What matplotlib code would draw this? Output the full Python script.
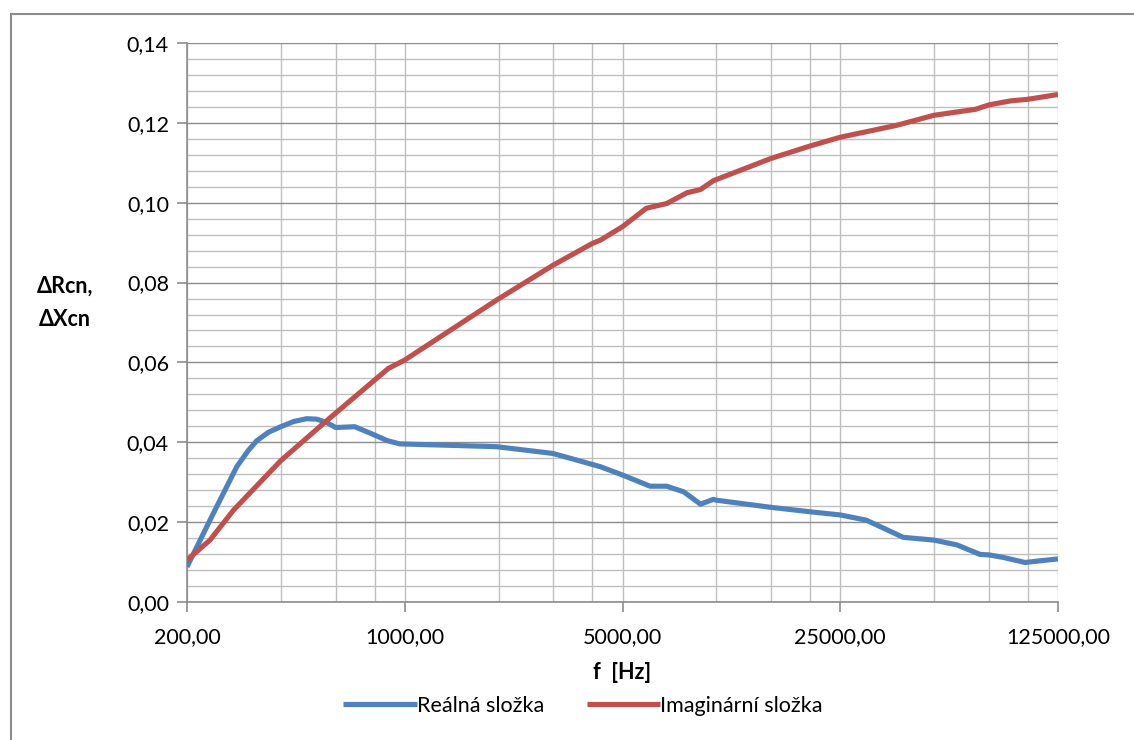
import matplotlib.pyplot as plt
from matplotlib.patches import Rectangle
from matplotlib.ticker import FixedLocator, FuncFormatter, NullFormatter

plt.rcParams['font.family'] = ['Lato', 'DejaVu Sans']

# frequency points and values
f_real = [200, 243, 289, 315, 335, 365, 400, 440, 484, 521, 560, 600, 691, 790,
          880, 964, 1970, 2990, 4240, 5000, 6130, 6930, 7860, 8900, 9780, 10000,
          15000, 20000, 25000, 30300, 39800, 50000, 59200, 70400, 75000, 83000,
          98000, 125000]
real = [0.0088, 0.0222, 0.0339, 0.0380, 0.0404, 0.0425, 0.0439, 0.0452, 0.0459,
        0.0458, 0.0450, 0.0437, 0.0439, 0.0420, 0.0404, 0.0396, 0.0389, 0.0372,
        0.0339, 0.0318, 0.0290, 0.0290, 0.0276, 0.0245, 0.0257, 0.0255, 0.0237,
        0.0226, 0.0218, 0.0205, 0.0162, 0.0155, 0.0143, 0.0119, 0.0118, 0.0112,
        0.0099, 0.0108]

f_imag = [200, 237, 282, 400, 548, 886, 1000, 1970, 3000, 4000, 4240, 5000,
          5960, 6930, 8060, 8900, 9780, 15000, 20000, 25000, 38000, 50000,
          68000, 75000, 88000, 100000, 125000]
imag = [0.0105, 0.0155, 0.0230, 0.0354, 0.0447, 0.0585, 0.0606, 0.0756, 0.0844,
        0.0898, 0.0906, 0.0940, 0.0986, 0.0998, 0.1025, 0.1033, 0.1055, 0.1111,
        0.1142, 0.1164, 0.1194, 0.1219, 0.1234, 0.1245, 0.1255, 0.1259, 0.1271]

x_major = [200, 1000, 5000, 25000, 125000]
x_minor = [k * m for m in x_major[:-1] for k in (2, 3, 4)]
y_major = [0.00, 0.02, 0.04, 0.06, 0.08, 0.10, 0.12, 0.14]
y_minor = [i * 0.004 for i in range(36)]

fig = plt.figure(figsize=(11.34, 7.4), dpi=100)
ax = fig.add_axes([187 / 1134, 1 - 602 / 740, (1058 - 187) / 1134, (602 - 43) / 740])

# outer chart border
fig.patches.append(Rectangle((10.5 / 1134, -0.1), 1.2, 1 - 14 / 740 + 0.1,
                             transform=fig.transFigure, fill=False,
                             edgecolor='#8c8c8c', linewidth=1.5))

ax.plot(f_real, real, color='#4F81BD', lw=3.7, label='Reálná složka',
        solid_joinstyle='round', solid_capstyle='butt', zorder=3)
ax.plot(f_imag, imag, color='#C0504D', lw=3.7, label='Imaginární složka',
        solid_joinstyle='round', solid_capstyle='butt', zorder=3)

ax.set_xscale('log', base=5)
ax.set_xlim(200, 125000)
ax.set_ylim(0, 0.14)
ax.xaxis.set_major_locator(FixedLocator(x_major))
ax.xaxis.set_minor_locator(FixedLocator(x_minor))
ax.xaxis.set_minor_formatter(NullFormatter())
ax.xaxis.set_major_formatter(FuncFormatter(lambda v, p: '{:.2f}'.format(v).replace('.', ',')))
ax.yaxis.set_major_locator(FixedLocator(y_major))
ax.yaxis.set_minor_locator(FixedLocator(y_minor))
ax.yaxis.set_major_formatter(FuncFormatter(lambda v, p: '{:.2f}'.format(v).replace('.', ',')))

ax.grid(which='minor', color='#bfbfbf', lw=1.0)
ax.grid(which='major', axis='x', color='#bfbfbf', lw=1.0)
ax.grid(which='major', axis='y', color='#8c8c8c', lw=1.0)
ax.set_axisbelow(True)

for s in ('top', 'right'):
    ax.spines[s].set_visible(False)
for s in ('left', 'bottom'):
    ax.spines[s].set_color('#8c8c8c')
    ax.spines[s].set_linewidth(1.2)

ax.tick_params(axis='both', which='major', colors='#8c8c8c', labelcolor='black',
               labelsize=15.5, length=7, width=1.2)
ax.tick_params(axis='x', which='major', pad=11)
ax.tick_params(axis='y', which='major', pad=6)
ax.tick_params(which='minor', length=0)

ax.set_xlabel('f  [Hz]', fontsize=15.5, fontweight='bold', labelpad=11)
fig.text(65 / 1134, 1 - 303 / 740, 'ΔRcn,\nΔXcn', fontsize=15.5, fontweight='bold',
         ha='center', va='center', linespacing=1.7)

fig.legend(loc='center', bbox_to_anchor=(583 / 1134, 1 - 706 / 740), ncol=2,
           frameon=False, fontsize=15.5, handlelength=3.4, handletextpad=0.0,
           columnspacing=2.0)

plt.savefig('out.png')
